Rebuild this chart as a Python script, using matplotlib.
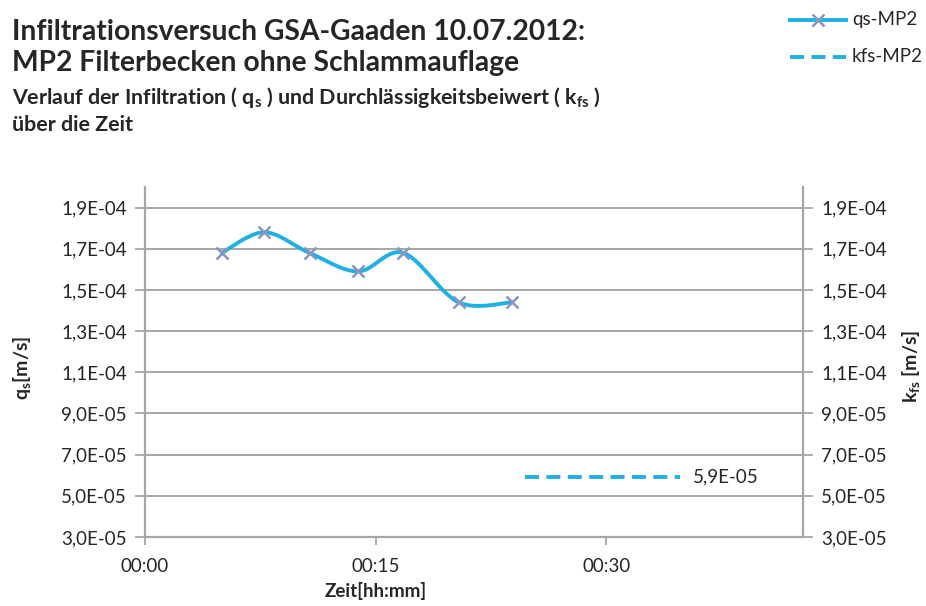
import numpy as np
import matplotlib
matplotlib.use("Agg")
import matplotlib.pyplot as plt
from matplotlib.lines import Line2D
from matplotlib.ticker import FuncFormatter, MultipleLocator

plt.rcParams['font.family'] = ['Lato', 'DejaVu Sans']
plt.rcParams['mathtext.default'] = 'regular'

# data (minutes since start, m/s)
t_qs = [5.0, 7.75, 10.7, 13.85, 16.8, 20.4, 23.9]
qs_mp2 = [1.68e-4, 1.78e-4, 1.68e-4, 1.59e-4, 1.68e-4, 1.44e-4, 1.44e-4]
t_kfs = [24.7, 34.8]
kfs_mp2 = [5.9e-5, 5.9e-5]
kfs_label = "5,9E-05"

xmin, xmax = 0, 42.8
ymin, ymax = 3.0e-5, 2.0e-4
yticks = [3e-5, 5e-5, 7e-5, 9e-5, 1.1e-4, 1.3e-4, 1.5e-4, 1.7e-4, 1.9e-4]

blue = '#1FB0E4'
marker_col = '#8A96C0'
grid_col = '#A6A6A6'
text_col = '#262626'
fs = 13.5
W, H = 926, 606


def smooth(x, y, n=30):
    # excel-like smoothed line (catmull-rom in axis-normalised space)
    px = (np.array(x) - xmin) / (xmax - xmin)
    py = (np.array(y) - ymin) / (ymax - ymin) * 0.53
    P = np.column_stack([px, py])
    P = np.vstack([P[0], P, P[-1]])
    out = []
    for i in range(1, len(P) - 2):
        p0, p1, p2, p3 = P[i - 1], P[i], P[i + 1], P[i + 2]
        c1 = p1 + (p2 - p0) / 6
        c2 = p2 - (p3 - p1) / 6
        s = np.linspace(0, 1, n)[:, None]
        seg = (1 - s) ** 3 * p1 + 3 * (1 - s) ** 2 * s * c1 + 3 * (1 - s) * s ** 2 * c2 + s ** 3 * p2
        out.append(seg)
    out = np.vstack(out)
    return out[:, 0] * (xmax - xmin) + xmin, out[:, 1] / 0.53 * (ymax - ymin) + ymin


def sci(v, pos=None):
    s = "%.1E" % v
    m, e = s.split("E")
    return m.replace(".", ",") + "E" + e[0] + e[1:].zfill(2)


fig = plt.figure(figsize=(9.26, 6.06), dpi=100)
ax = fig.add_axes([145 / W, 1 - 537 / H, (803 - 145) / W, (537 - 187) / H])
ax2 = ax.twinx()

sx, sy = smooth(t_qs, qs_mp2)
ax.plot(sx, sy, color=blue, lw=2.8, solid_capstyle='round', zorder=3)
ax.plot(t_qs, qs_mp2, ls='none', marker='x', ms=9, mew=1.8, color=marker_col, zorder=4)
ax.plot(t_kfs, kfs_mp2, color=blue, lw=2.8, ls=(0, (3.6, 1.9)), zorder=3)
ax.text(t_kfs[1] + 0.85, kfs_mp2[1], kfs_label, fontsize=fs, color=text_col, va='center', ha='left')

for a in (ax, ax2):
    a.set_ylim(ymin, ymax)
    a.set_yticks(yticks)
    a.yaxis.set_major_formatter(FuncFormatter(sci))
    a.tick_params(axis='y', labelsize=fs, colors=grid_col, labelcolor=text_col, length=7, width=1.3, pad=6)
    for sp in a.spines.values():
        sp.set_visible(False)

ax.set_xlim(xmin, xmax)
ax.xaxis.set_major_locator(MultipleLocator(15))
ax.xaxis.set_major_formatter(FuncFormatter(lambda v, p: "%02d:%02d" % (int(v) // 60, int(v) % 60)))
ax.tick_params(axis='x', labelsize=fs, colors=grid_col, labelcolor=text_col, length=6, width=1.3, pad=9)
ax.grid(axis='y', color=grid_col, lw=1.4)
ax.set_axisbelow(True)
for side in ('left', 'bottom'):
    ax.spines[side].set_visible(True)
    ax.spines[side].set_color(grid_col)
    ax.spines[side].set_linewidth(1.6)
ax2.spines['right'].set_visible(True)
ax2.spines['right'].set_color(grid_col)
ax2.spines['right'].set_linewidth(1.6)

# axis titles placed in figure pixels
fig.text(22 / W, 1 - 368 / H, "q$_s$[m/s]", fontsize=14, fontweight='bold', color=text_col,
         rotation=90, ha='center', va='center')
fig.text(911 / W, 1 - 366 / H, "k$_{fs}$ [m/s]", fontsize=14, fontweight='bold', color=text_col,
         rotation=90, ha='center', va='center')
fig.text(376 / W, 1 - 591 / H, "Zeit[hh:mm]", fontsize=fs, fontweight='bold', color=text_col,
         ha='center', va='center')

fig.text(12 / W, 1 - 32 / H, "Infiltrationsversuch GSA-Gaaden 10.07.2012:", fontsize=20.3,
         fontweight='bold', color=text_col, va='center')
fig.text(12 / W, 1 - 63 / H, "MP2 Filterbecken ohne Schlammauflage", fontsize=20.3,
         fontweight='bold', color=text_col, va='center')
fig.text(12 / W, 1 - 97 / H, "Verlauf der Infiltration ( q$_s$ ) und Durchlässigkeitsbeiwert ( k$_{fs}$ )",
         fontsize=15.4, fontweight='bold', color=text_col, va='center')
fig.text(12 / W, 1 - 125 / H, "über die Zeit", fontsize=15.4, fontweight='bold', color=text_col, va='center')

# legend drawn in figure pixels
fig.add_artist(Line2D([790 / W, 846 / W], [1 - 20 / H] * 2, color=blue, lw=2.8))
fig.add_artist(Line2D([818 / W], [1 - 20 / H], ls='none', marker='x', ms=9, mew=1.8, color=marker_col))
fig.add_artist(Line2D([790 / W, 846 / W], [1 - 57 / H] * 2, color=blue, lw=2.8, ls=(0, (3.6, 1.9))))
fig.text(852 / W, 1 - 20 / H, "qs-MP2", fontsize=fs, color=text_col, va='center')
fig.text(852 / W, 1 - 57 / H, "kfs-MP2", fontsize=fs, color=text_col, va='center')

fig.savefig("out.png", dpi=100)
